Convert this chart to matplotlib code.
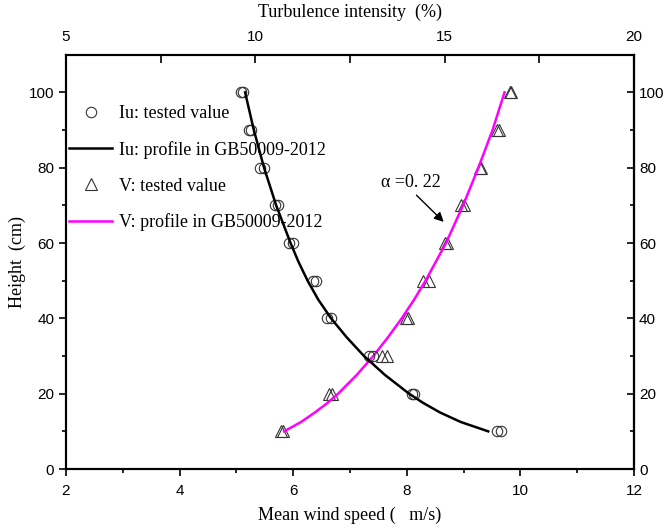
import numpy as np
import matplotlib
matplotlib.use('Agg')
import matplotlib.pyplot as plt
from matplotlib.lines import Line2D
from matplotlib.ticker import MultipleLocator, FixedLocator

plt.rcParams['font.family'] = ['Liberation Serif', 'DejaVu Serif']

# tested values, two runs per height
h_test = [100, 90, 80, 70, 60, 50, 40, 30, 20, 10]
iu_run1 = [9.62, 9.84, 10.12, 10.52, 10.90, 11.53, 11.90, 13.01, 14.13, 16.39]
iu_run2 = [9.67, 9.88, 10.23, 10.61, 11.00, 11.60, 11.99, 13.11, 14.19, 16.50]
v_run1 = [9.81, 9.58, 9.29, 8.96, 8.68, 8.28, 7.98, 7.57, 6.63, 5.78]
v_run2 = [9.84, 9.63, 9.31, 9.00, 8.70, 8.39, 8.02, 7.65, 6.69, 5.82]

# code profiles
h_prof = [10, 12.5, 15, 17.5, 20, 25, 30, 35, 40, 45, 50, 55, 60, 70, 80, 90, 100]
iu_prof = [16.15, 15.42, 14.88, 14.44, 14.06, 13.42, 12.87, 12.41, 12.0,
           11.66, 11.38, 11.14, 10.93, 10.55, 10.23, 9.96, 9.73]
v_prof = [5.84, 6.14, 6.38, 6.60, 6.79, 7.12, 7.41, 7.67, 7.91,
          8.13, 8.33, 8.51, 8.69, 8.99, 9.26, 9.51, 9.72]

fig = plt.figure(figsize=(6.7, 5.28), dpi=100)
ax = fig.add_axes([0.0985, 0.1117, 0.8478, 0.7847])
ax_top = ax.twiny()

ax.set_xlim(2, 12)
ax.set_ylim(0, 110)
ax_top.set_xlim(5, 20)

mk = dict(ls='none', mfc='none', mec='#333333', mew=0.8)
ax.plot(v_run1, h_test, marker='^', ms=9, **mk)
ax.plot(v_run2, h_test, marker='^', ms=9, **mk)
ax.plot(v_prof, h_prof, color='#ff00ff', lw=1.8)
ax_top.plot(iu_run1, h_test, marker='o', ms=7.5, **mk)
ax_top.plot(iu_run2, h_test, marker='o', ms=7.5, **mk)
ax_top.plot(iu_prof, h_prof, color='black', lw=1.8)

# ticks
tick_font = dict(family='Liberation Sans', size=11)
ax.xaxis.set_major_locator(MultipleLocator(2))
ax.xaxis.set_minor_locator(MultipleLocator(1))
ax.yaxis.set_major_locator(FixedLocator([0, 20, 40, 60, 80, 100]))
ax.yaxis.set_minor_locator(FixedLocator([10, 30, 50, 70, 90]))
ax.tick_params(axis='both', which='major', direction='out', length=5, width=1.2)
ax.tick_params(axis='both', which='minor', direction='out', length=3, width=1.2)
ax.tick_params(axis='x', pad=6)
ax_top.xaxis.set_major_locator(FixedLocator([5, 10, 15, 20]))
ax_top.xaxis.set_minor_locator(FixedLocator([7.5, 12.5, 17.5]))
ax_top.tick_params(axis='x', which='both', direction='in', length=6, width=1.2, pad=8)

ax_r = ax.secondary_yaxis('right')
ax_r.yaxis.set_major_locator(FixedLocator([0, 20, 40, 60, 80, 100]))
ax_r.yaxis.set_minor_locator(FixedLocator([10, 30, 50, 70, 90]))
ax_r.tick_params(which='major', direction='in', length=5, width=1.2)
ax_r.tick_params(which='minor', direction='in', length=3, width=1.2)

for a in (ax, ax_top, ax_r):
    for lab in a.get_xticklabels() + a.get_yticklabels():
        lab.set_fontfamily(tick_font['family'])
        lab.set_fontsize(tick_font['size'])
    for s in a.spines.values():
        s.set_linewidth(1.5)

ax.set_xlabel('Mean wind speed (   m/s)', fontsize=13, labelpad=6)
ax.set_ylabel('Height  (cm)', fontsize=13, labelpad=2)
ax_top.set_xlabel('Turbulence intensity  (%)', fontsize=13, labelpad=9)

handles = [
    Line2D([], [], marker='o', ms=7.5, **mk),
    Line2D([], [], color='black', lw=1.8),
    Line2D([], [], marker='^', ms=9, **mk),
    Line2D([], [], color='#ff00ff', lw=1.8),
]
labels = ['Iu: tested value', 'Iu: profile in GB50009-2012',
          'V: tested value', 'V: profile in GB50009-2012']
ax_top.legend(handles, labels, loc='upper left', bbox_to_anchor=(0.005, 0.879),
              frameon=False, fontsize=13, handlelength=2.4, handletextpad=0.4,
              labelspacing=1.05, borderpad=0, borderaxespad=0)

ax.text(7.55, 76, 'α =0. 22', fontsize=13, va='center', ha='left')
ax.annotate('', xy=(8.65, 65.6), xytext=(8.17, 72.7),
            arrowprops=dict(arrowstyle='-|>', color='black', lw=1.0,
                            shrinkA=0, shrinkB=0, mutation_scale=14))

fig.savefig('out.png', dpi=100)
